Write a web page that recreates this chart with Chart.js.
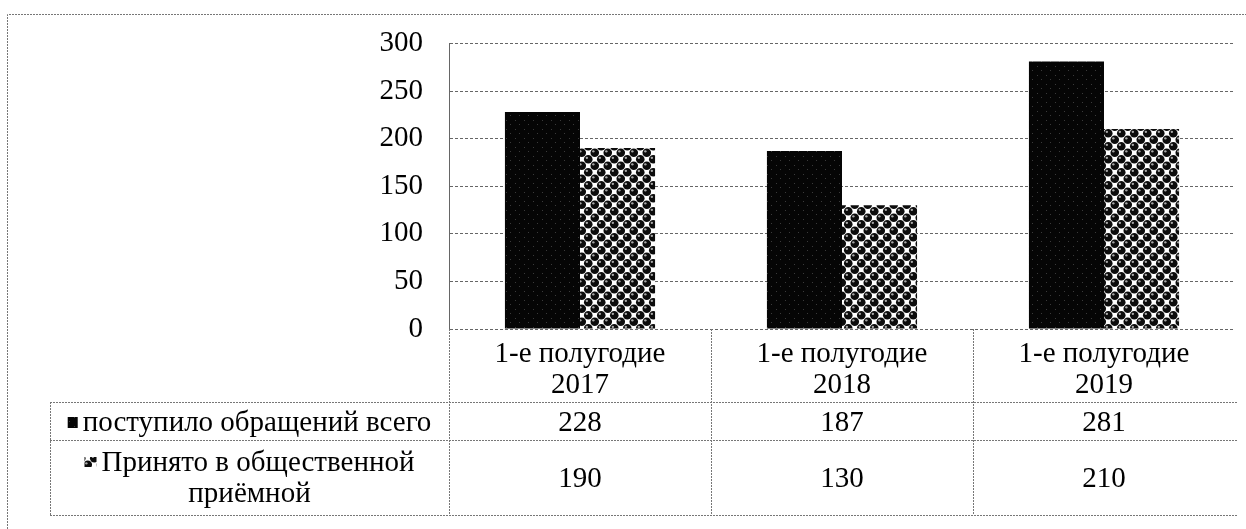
<!DOCTYPE html>
<html>
<head>
<meta charset="utf-8">
<script src="https://cdn.jsdelivr.net/npm/chart.js@4.4.1/dist/chart.umd.min.js"></script>
<style>
  html, body { margin: 0; padding: 0; background: #fff; }
  #wrap { width: 1246px; height: 529px; position: relative; }
</style>
</head>
<body>
<div id="wrap"><canvas id="chart"></canvas></div>
<script>
'use strict';

/* ── Data ─────────────────────────────────────────────── */
const categories = [['1-е полугодие', '2017'], ['1-е полугодие', '2018'], ['1-е полугодие', '2019']];
const seriesNames = ['поступило обращений всего', ['Принято в общественной', 'приёмной']];
const receivedTotal = [228, 187, 281];
const acceptedReception = [190, 130, 210];
const yTicks = [0, 50, 100, 150, 200, 250, 300];

const FONT = '"Liberation Serif", "Times New Roman", serif';
const FSIZE = 29;

/* ── Fill patterns ─────────────────────────────────────── */
function darkPattern() {
  const c = document.createElement('canvas');
  c.width = 9; c.height = 9;
  const g = c.getContext('2d');
  g.fillStyle = '#050505';
  g.fillRect(0, 0, 9, 9);
  g.fillStyle = '#3a3a3a';
  g.fillRect(2, 3, 1, 1);
  g.fillRect(6, 7, 1, 1);
  return g.createPattern(c, 'repeat');
}

function ballPattern() {
  const c = document.createElement('canvas');
  c.width = 13; c.height = 13;
  const g = c.getContext('2d');
  g.fillStyle = '#fff';
  g.fillRect(0, 0, 13, 13);
  const ball = (x, y) => {
    g.fillStyle = '#0c0c0c';
    g.beginPath(); g.arc(x, y, 4.3, 0, Math.PI * 2); g.fill();
    g.fillStyle = '#a8a8a8';
    g.beginPath(); g.arc(x - 1.4, y - 1.4, 1.2, 0, Math.PI * 2); g.fill();
  };
  ball(3.25, 3.25); ball(9.75, 9.75);
  ball(-3.25, 9.75); ball(16.25, 3.25); ball(9.75, -3.25); ball(3.25, 16.25);
  return g.createPattern(c, 'repeat');
}

const fillDark = darkPattern();
const fillBalls = ballPattern();

/* ── Frame + data table below the axis ───────────────── */
const tablePlugin = {
  id: 'dataTable',
  afterDraw(chart) {
    const { ctx, chartArea } = chart;
    const x = chart.scales.x;
    const tLeft = 50, tRight = 1238;
    const axisY = chartArea.bottom;
    const row1Top = 402, row2Top = 440, tBottom = 515;
    const colW = (x.right - x.left) / categories.length;

    ctx.save();
    ctx.strokeStyle = '#777';
    ctx.lineWidth = 1;
    ctx.setLineDash([2, 1]);
    ctx.beginPath();
    // outer frame
    ctx.moveTo(7.5, 529); ctx.lineTo(7.5, 14.5); ctx.lineTo(1246, 14.5);
    // table grid
    [row1Top, row2Top, tBottom].forEach(y => {
      ctx.moveTo(tLeft, y + 0.5); ctx.lineTo(tRight, y + 0.5);
    });
    ctx.moveTo(tLeft + 0.5, row1Top); ctx.lineTo(tLeft + 0.5, tBottom);
    for (let i = 0; i < categories.length; i++) {
      const cx = Math.round(x.left + i * colW) + 0.5;
      ctx.moveTo(cx, axisY); ctx.lineTo(cx, tBottom);
    }
    ctx.stroke();
    ctx.setLineDash([]);

    ctx.fillStyle = '#000';
    ctx.font = FSIZE + 'px ' + FONT;
    ctx.textBaseline = 'middle';

    // legend cells, centred in the label column
    const cellMid = (tLeft + x.left) / 2;
    const r1y = (row1Top + row2Top) / 2 + 2;
    const txt1 = seriesNames[0];
    const w1 = ctx.measureText(txt1).width + 15;
    let sx = cellMid - w1 / 2;
    ctx.fillStyle = fillDark;
    ctx.fillRect(sx, r1y - 6, 10, 11);
    ctx.fillStyle = '#000';
    ctx.textAlign = 'left';
    ctx.fillText(txt1, sx + 15, r1y);

    const l1 = seriesNames[1][0], l2 = seriesNames[1][1];
    const w2 = ctx.measureText(l1).width + 17;
    sx = cellMid - w2 / 2;
    const r2a = 463, r2b = 494;
    ctx.fillStyle = fillBalls;
    ctx.fillRect(sx, r2a - 6, 12, 10);
    ctx.fillStyle = '#000';
    ctx.fillText(l1, sx + 17, r2a);
    ctx.textAlign = 'center';
    ctx.fillText(l2, cellMid, r2b);

    // values
    const r2y = (row2Top + tBottom) / 2 + 2;
    for (let i = 0; i < categories.length; i++) {
      const cx = x.getPixelForValue(i);
      ctx.fillText(String(receivedTotal[i]), cx, r1y);
      ctx.fillText(String(acceptedReception[i]), cx, r2y);
    }
    ctx.restore();
  }
};

/* ── Chart ────────────────────────────────────────────── */
new Chart(document.getElementById('chart'), {
  type: 'bar',
  data: {
    labels: categories,
    datasets: [
      { label: seriesNames[0], data: receivedTotal, backgroundColor: fillDark,
        categoryPercentage: 0.573, barPercentage: 1 },
      { label: seriesNames[1].join(' '), data: acceptedReception, backgroundColor: fillBalls,
        categoryPercentage: 0.573, barPercentage: 1 }
    ]
  },
  options: {
    responsive: true, maintainAspectRatio: false, animation: false,
    layout: { padding: { left: 0, top: 43, right: 11, bottom: 0 } },
    plugins: { legend: { display: false }, tooltip: { enabled: false } },
    scales: {
      x: {
        grid: { display: false },
        border: { display: false },
        ticks: {
          color: '#000', padding: 2, maxRotation: 0,
          font: { family: FONT, size: FSIZE, lineHeight: 1.07 }
        },
        afterFit(s) { s.height = 200; }
      },
      y: {
        min: 0, max: 300,
        afterBuildTicks(s) { s.ticks = yTicks.map(v => ({ value: v })); },
        grid: { color: '#666', drawTicks: false },
        border: { display: true, color: '#666', dash: [3, 2] },
        ticks: { color: '#000', padding: 26, font: { family: FONT, size: FSIZE } },
        afterFit(s) { s.width = 449; }
      }
    }
  },
  plugins: [tablePlugin]
});
</script>
</body>
</html>
